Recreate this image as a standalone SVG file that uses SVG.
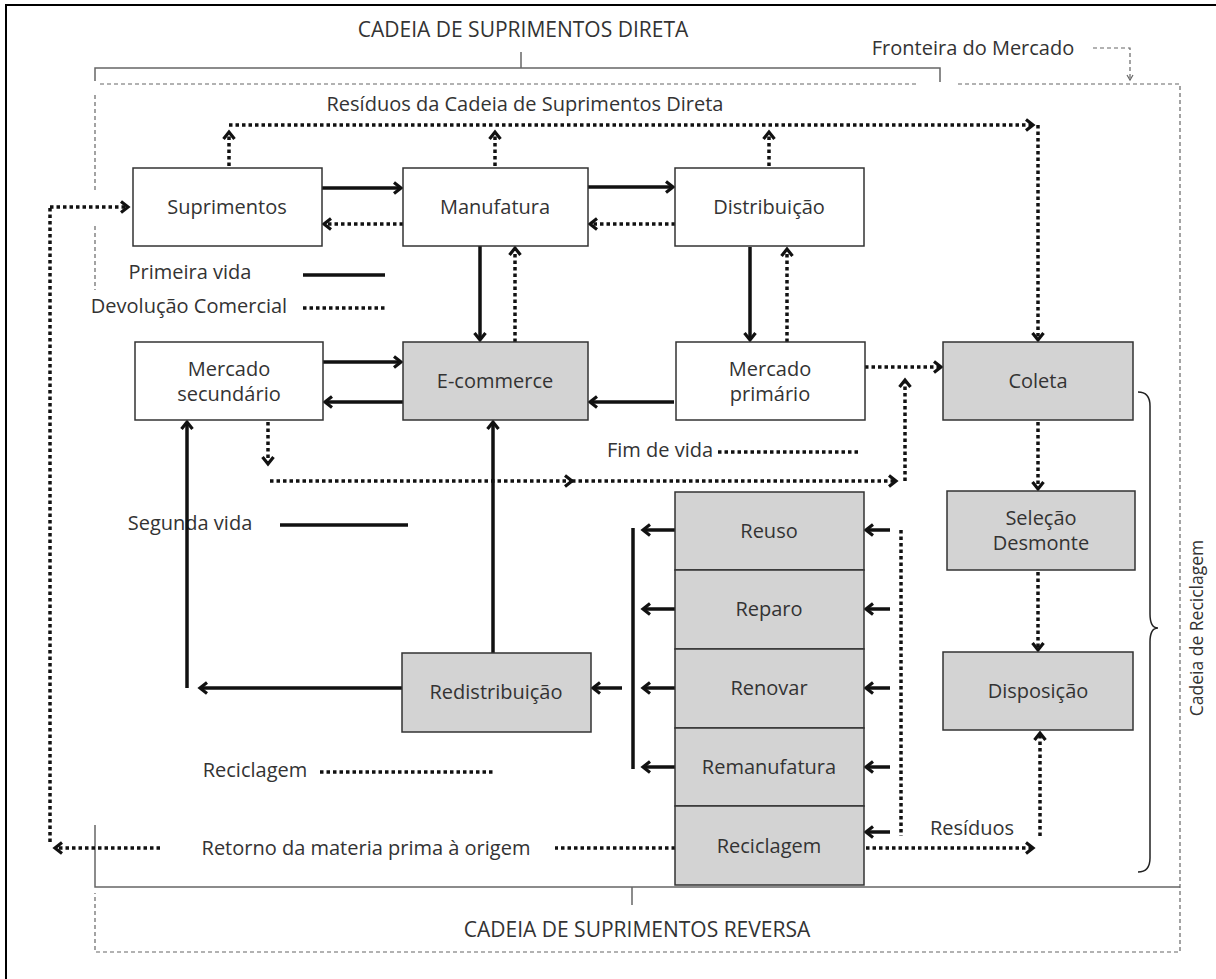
<svg xmlns="http://www.w3.org/2000/svg" width="1216" height="979" viewBox="0 0 1216 979">
<defs>
<style>
text{font-family:"Open Sans","Liberation Sans",sans-serif;font-size:20px;fill:#333;text-anchor:middle}
.box{fill:#fff;stroke:#333;stroke-width:1.5}
.g{fill:#d3d3d3}
.s{fill:none;stroke:#111;stroke-width:3.5}
.d{fill:none;stroke:#111;stroke-width:3.5;stroke-dasharray:3.5 3}
.b{fill:none;stroke:#666;stroke-width:1.5}
.bd{fill:none;stroke:#666;stroke-width:1.2;stroke-dasharray:4 3}
</style>
<marker id="ah" viewBox="0 0 12 14" markerUnits="userSpaceOnUse" markerWidth="12" markerHeight="14" refX="9" refY="7" orient="auto">
<path d="M2,1.5 L9,7 L2,12.5" fill="none" stroke="#111" stroke-width="3.2" stroke-dasharray="none"/>
</marker>
<marker id="sa" viewBox="0 0 8 8" markerUnits="userSpaceOnUse" markerWidth="8" markerHeight="8" refX="6" refY="4" orient="auto">
<path d="M1,1 L6,4 L1,7" fill="none" stroke="#666" stroke-width="1.2"/>
</marker>
</defs>
<rect width="1216" height="979" fill="#fff"/>
<path d="M6,979 V5 H1216" fill="none" stroke="#000" stroke-width="2"/>

<g id="boundaries">
<text x="523" y="37" style="font-size:21px">CADEIA DE SUPRIMENTOS DIRETA</text>
<path class="b" d="M95,81 V68 H940 V82"/>
<path class="b" d="M521,52 V68"/>
<text x="973" y="55">Fronteira do  Mercado</text>
<path class="bd" d="M1093,48 H1130 V80" marker-end="url(#sa)"/>
<path class="bd" d="M100,84 H918"/>
<path class="bd" d="M958,84 H1180 V952 H95 V893"/>
<path class="bd" d="M95,95 V190 M95,226 V290"/>
<path class="b" d="M95,825 V887 H1180"/>
<path class="b" d="M632,887 V905"/>
<text x="637" y="937" style="font-size:21px">CADEIA DE SUPRIMENTOS REVERSA</text>
<path d="M1138,392 Q1150,392 1150,406 V614 Q1150,628 1158,628 Q1150,628 1150,642 V858 Q1150,872 1138,872" fill="none" stroke="#222" stroke-width="1.5"/>
<text x="0" y="0" transform="translate(1203,628) rotate(-90)" style="font-size:17.5px">Cadeia de Reciclagem</text>
</g>

<g id="labels">
<text x="525" y="111">Resíduos da Cadeia de Suprimentos Direta</text>
<text x="190" y="279">Primeira vida</text>
<text x="189" y="313">Devolução Comercial</text>
<text x="190" y="530">Segunda vida</text>
<text x="660" y="457">Fim de vida</text>
<text x="255" y="777">Reciclagem</text>
<text x="366" y="855">Retorno da materia prima à origem</text>
<text x="972" y="835">Resíduos</text>
</g>

<g id="connectors">
<path class="s" d="M303,275 H385"/>
<path class="s" d="M280,525 H408"/>
<path class="d" d="M303,308 H385"/>
<path class="d" d="M718,452 H858"/>
<path class="d" d="M320,772 H495"/>

<path class="s" d="M322,188 H401" marker-end="url(#ah)"/>
<path class="s" d="M588,187 H673" marker-end="url(#ah)"/>
<path class="s" d="M480,246 V340" marker-end="url(#ah)"/>
<path class="s" d="M750,247 V340" marker-end="url(#ah)"/>
<path class="s" d="M323,362 H401" marker-end="url(#ah)"/>
<path class="s" d="M403,402 H325" marker-end="url(#ah)"/>
<path class="s" d="M674,402 H590" marker-end="url(#ah)"/>
<path class="s" d="M493,653 V422" marker-end="url(#ah)"/>
<path class="s" d="M187,688 V422" marker-end="url(#ah)"/>
<path class="s" d="M402,688 H200" marker-end="url(#ah)"/>
<path class="s" d="M633,528 V769"/>
<path class="s" d="M675,530 H643" marker-end="url(#ah)"/>
<path class="s" d="M675,609 H643" marker-end="url(#ah)"/>
<path class="s" d="M675,688 H643" marker-end="url(#ah)"/>
<path class="s" d="M675,767 H643" marker-end="url(#ah)"/>
<path class="s" d="M622,688 H593" marker-end="url(#ah)"/>
<path class="s" d="M890,530 H866" marker-end="url(#ah)"/>
<path class="s" d="M890,609 H866" marker-end="url(#ah)"/>
<path class="s" d="M890,688 H866" marker-end="url(#ah)"/>
<path class="s" d="M890,767 H866" marker-end="url(#ah)"/>
<path class="s" d="M890,832 H866" marker-end="url(#ah)"/>

<path class="d" d="M229,166 V132" marker-end="url(#ah)"/>
<path class="d" d="M495,166 V132" marker-end="url(#ah)"/>
<path class="d" d="M769,166 V132" marker-end="url(#ah)"/>
<path class="d" d="M229,125 H1033" marker-end="url(#ah)"/>
<path class="d" d="M1038,125 V340" marker-end="url(#ah)"/>
<path class="d" d="M403,224 H324" marker-end="url(#ah)"/>
<path class="d" d="M675,224 H590" marker-end="url(#ah)"/>
<path class="d" d="M515,342 V248" marker-end="url(#ah)"/>
<path class="d" d="M787,342 V249" marker-end="url(#ah)"/>
<path class="d" d="M865,367 H941" marker-end="url(#ah)"/>
<path class="d" d="M268,422 V464" marker-end="url(#ah)"/>
<path class="d" d="M270,481 H572" marker-end="url(#ah)"/>
<path class="d" d="M572,481 H896" marker-end="url(#ah)"/>
<path class="d" d="M905,481 V380" marker-end="url(#ah)"/>
<path class="d" d="M1038,422 V489" marker-end="url(#ah)"/>
<path class="d" d="M1038,572 V650" marker-end="url(#ah)"/>
<path class="d" d="M901,530 V836"/>
<path class="d" d="M866,848 H1033" marker-end="url(#ah)"/>
<path class="d" d="M1040,836 V733" marker-end="url(#ah)"/>
<path class="d" d="M675,848 H555"/>
<path class="d" d="M160,848 H55" marker-end="url(#ah)"/>
<path class="d" d="M50,842 V207"/>
<path class="d" d="M50,207 H128" marker-end="url(#ah)"/>
</g>

<g id="suprimentos"><rect class="box" x="133" y="168" width="189" height="78"/><text x="227" y="214">Suprimentos</text></g>
<g id="manufatura"><rect class="box" x="403" y="168" width="185" height="78"/><text x="495" y="214">Manufatura</text></g>
<g id="distribuicao"><rect class="box" x="675" y="168" width="189" height="78"/><text x="769" y="214">Distribuição</text></g>
<g id="mercado-secundario"><rect class="box" x="135" y="342" width="188" height="78"/><text x="229" y="376">Mercado</text><text x="229" y="401">secundário</text></g>
<g id="ecommerce"><rect class="box g" x="403" y="342" width="185" height="78"/><text x="495" y="388">E-commerce</text></g>
<g id="mercado-primario"><rect class="box" x="676" y="342" width="189" height="78"/><text x="770" y="376">Mercado</text><text x="770" y="401">primário</text></g>
<g id="coleta"><rect class="box g" x="943" y="342" width="190" height="78"/><text x="1038" y="388">Coleta</text></g>
<g id="selecao"><rect class="box g" x="947" y="491" width="188" height="79"/><text x="1041" y="525">Seleção</text><text x="1041" y="550">Desmonte</text></g>
<g id="disposicao"><rect class="box g" x="943" y="652" width="190" height="78"/><text x="1038" y="698">Disposição</text></g>
<g id="redistribuicao"><rect class="box g" x="402" y="653" width="189" height="79"/><text x="496" y="699">Redistribuição</text></g>
<g id="reuso"><rect class="box g" x="675" y="492" width="189" height="78"/><text x="769" y="538">Reuso</text></g>
<g id="reparo"><rect class="box g" x="675" y="570" width="189" height="79"/><text x="769" y="616">Reparo</text></g>
<g id="renovar"><rect class="box g" x="675" y="649" width="189" height="79"/><text x="769" y="695">Renovar</text></g>
<g id="remanufatura"><rect class="box g" x="675" y="728" width="189" height="78"/><text x="769" y="774">Remanufatura</text></g>
<g id="reciclagem"><rect class="box g" x="675" y="806" width="189" height="79"/><text x="769" y="853">Reciclagem</text></g>
</svg>
